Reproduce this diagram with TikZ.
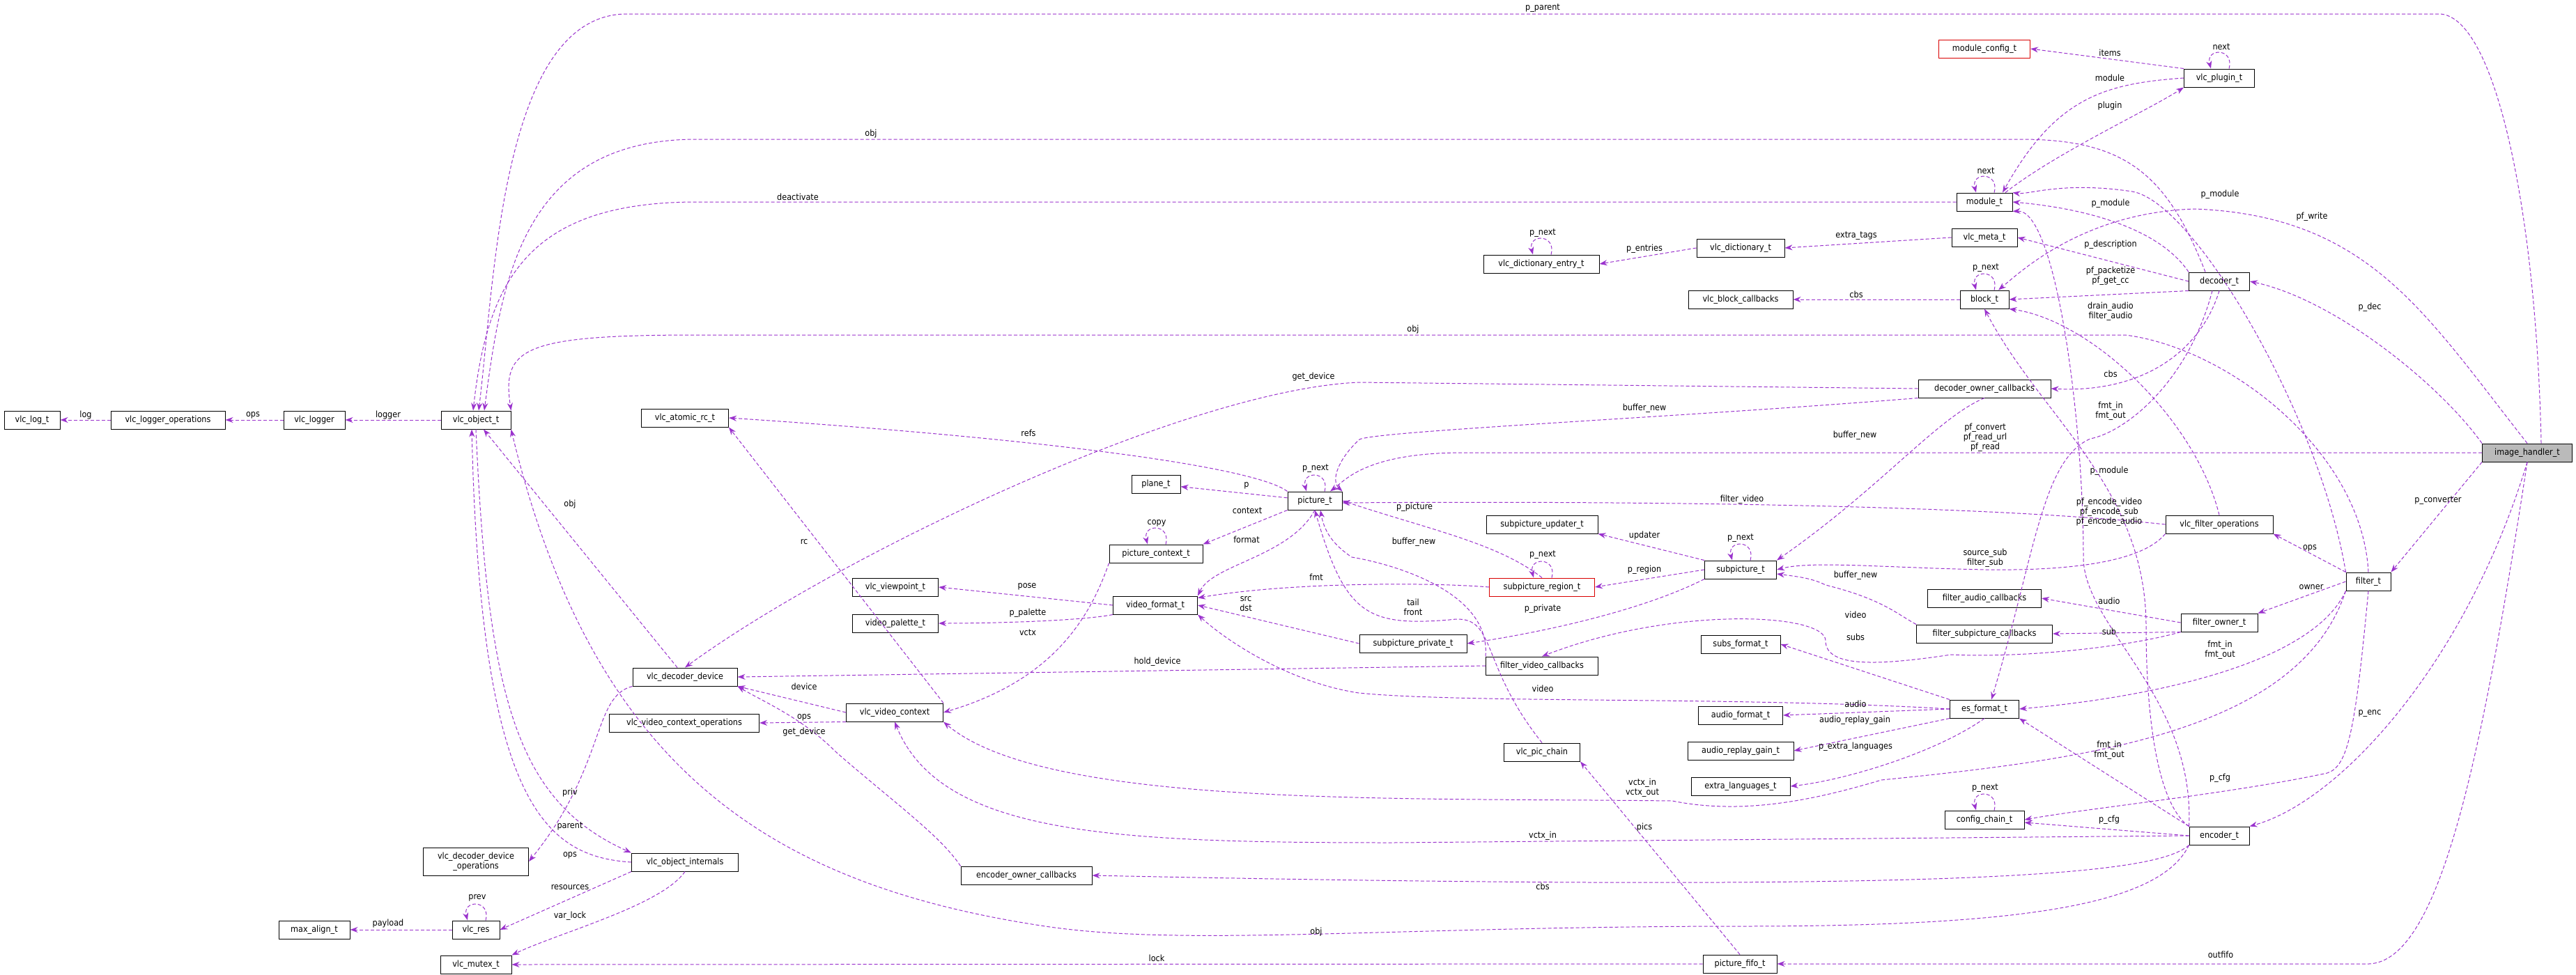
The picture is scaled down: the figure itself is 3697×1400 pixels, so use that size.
\documentclass[tikz,border=0pt]{standalone}
\usepackage{fontspec}
\setmainfont{DejaVu Sans Condensed}
\usetikzlibrary{arrows.meta}
\definecolor{edgec}{HTML}{9A32CD}
\begin{document}
\begin{tikzpicture}[x=1pt,y=-1pt,
  box/.style={draw=black,line width=1pt,fill=white,minimum height=26,inner sep=2pt,font=\fontsize{12.5}{14}\selectfont},
  redbox/.style={box,draw=red!85!black},
  lbl/.style={font=\fontsize{12.5}{14}\selectfont,align=center,inner sep=0pt},
  e/.style={draw=edgec,line width=1pt,dash pattern=on 5pt off 3pt,-{Stealth[length=11pt,width=8pt]}}]
\useasboundingbox[fill=white] (0,0) rectangle (3697,1400);
\newcommand\myloop[1]{\draw[e] ([xshift=14]#1.north) .. controls ([xshift=22,yshift=30]#1.north) and ([xshift=-20,yshift=30]#1.north) .. ([xshift=-12]#1.north);}
% nodes
\node[box,minimum width=80] (log) at (46,603) {vlc\_log\_t};
\node[box,minimum width=164] (lops) at (241,603) {vlc\_logger\_operations};
\node[box,minimum width=88] (logger) at (451,603) {vlc\_logger};
\node[box,minimum width=100] (obj) at (683,603) {vlc\_object\_t};
\node[box,minimum width=125] (arc) at (983,600) {vlc\_atomic\_rc\_t};
\node[box,minimum width=70] (plane) at (1659,695) {plane\_t};
\node[box,minimum width=78] (pic) at (1887,719) {picture\_t};
\node[box,minimum width=134] (pctx) at (1659,795) {picture\_context\_t};
\node[box,minimum width=123] (vp) at (1285,843) {vlc\_viewpoint\_t};
\node[box,minimum width=123] (pal) at (1285,895) {video\_palette\_t};
\node[box,minimum width=121] (vfmt) at (1658,869) {video\_format\_t};
\node[box,minimum width=150] (ddev) at (983,972) {vlc\_decoder\_device};
\node[box,minimum width=215] (vctxops) at (982,1038) {vlc\_video\_context\_operations};
\node[box,minimum width=139] (vctx) at (1284,1023) {vlc\_video\_context};
\node[box,minimum width=151,align=center,minimum height=40] (ddops) at (683,1237) {vlc\_decoder\_device\\\_operations};
\node[box,minimum width=153] (oint) at (983,1238) {vlc\_object\_internals};
\node[box,minimum width=102] (maxa) at (451,1335) {max\_align\_t};
\node[box,minimum width=68] (res) at (683,1335) {vlc\_res};
\node[box,minimum width=102] (mutex) at (683,1385) {vlc\_mutex\_t};
\node[box,minimum width=160] (spuupd) at (2213,753) {subpicture\_updater\_t};
\node[redbox,minimum width=151] (region) at (2213,843) {subpicture\_region\_t};
\node[box,minimum width=103] (spu) at (2498,818) {subpicture\_t};
\node[box,minimum width=154] (spriv) at (2028,924) {subpicture\_private\_t};
\node[box,minimum width=161] (fvcb) at (2213,956) {filter\_video\_callbacks};
\node[box,minimum width=114] (subsf) at (2498,925) {subs\_format\_t};
\node[box,minimum width=121] (audf) at (2498,1027) {audio\_format\_t};
\node[box,minimum width=152] (arg) at (2498,1078) {audio\_replay\_gain\_t};
\node[box,minimum width=142] (xlang) at (2498,1129) {extra\_languages\_t};
\node[box,minimum width=109] (picchain) at (2213,1080) {vlc\_pic\_chain};
\node[box,minimum width=188] (eocb) at (1473,1257) {encoder\_owner\_callbacks};
\node[box,minimum width=106] (fifo) at (2497,1384) {picture\_fifo\_t};
\node[redbox,minimum width=131] (modcfg) at (2848,70) {module\_config\_t};
\node[box,minimum width=101] (plugin) at (3185,112) {vlc\_plugin\_t};
\node[box,minimum width=80] (module) at (2848,290) {module\_t};
\node[box,minimum width=94] (meta) at (2848,341) {vlc\_meta\_t};
\node[box,minimum width=126] (dict) at (2498,356) {vlc\_dictionary\_t};
\node[box,minimum width=166] (dentry) at (2212,379) {vlc\_dictionary\_entry\_t};
\node[box,minimum width=150] (blkcb) at (2498,430) {vlc\_block\_callbacks};
\node[box,minimum width=70] (block) at (2848,430) {block\_t};
\node[box,minimum width=87] (dec) at (3185,404) {decoder\_t};
\node[box,minimum width=190] (docb) at (2848,558) {decoder\_owner\_callbacks};
\node[box,minimum width=129,fill=black!27] (ih) at (3627,650) {image\_handler\_t};
\node[box,minimum width=154] (fops) at (3185,753) {vlc\_filter\_operations};
\node[box,minimum width=64] (filter) at (3399,835) {filter\_t};
\node[box,minimum width=163] (facb) at (2848,859) {filter\_audio\_callbacks};
\node[box,minimum width=195] (fscb) at (2848,910) {filter\_subpicture\_callbacks};
\node[box,minimum width=110] (fowner) at (3185,894) {filter\_owner\_t};
\node[box,minimum width=99] (es) at (2848,1018) {es\_format\_t};
\node[box,minimum width=114] (cfg) at (2848,1177) {config\_chain\_t};
\node[box,minimum width=86] (enc) at (3185,1200) {encoder\_t};
% edges
\draw[e] (lops) -- (log);
\draw[e] (logger) -- (lops);
\draw[e] (obj) -- (logger);
\draw[e] (ddev) -- (obj);
\draw[e] (obj.south) .. controls (700,1000) and (740,1150) .. (oint.north west);
\draw[e] (oint.west) .. controls (780,1230) and (690,1150) .. ([xshift=-6]obj.south);
\draw[e] (ddev.south west) .. controls (850,1000) and (870,1100) .. (ddops.east);
\draw[e] (oint.south west) -- (res.east);
\myloop{res}
\draw[e] (res) -- (maxa);
\draw[e] (oint.south) .. controls (950,1300) and (800,1340) .. (mutex.north east);
\draw[e] (vctx.north east) -- (arc.south east);
\draw[e] (vctx.west) -- (ddev.south east);
\draw[e] (vctx.south west) -- (vctxops.east);
\draw[e] (pic.north west) .. controls (1800,670) and (1500,630) .. (arc.east);
\draw[e] (pic) -- (plane);
\draw[e] (pic.south west) -- (pctx.north east);
\myloop{pctx}
\draw[e] (pctx.south west) .. controls (1560,900) and (1500,980) .. (vctx.east);
\draw[e] (pic.south) .. controls (1850,800) and (1740,810) .. (vfmt.north east);
\myloop{pic}
\draw[e] (vfmt.west) -- (vp.east);
\draw[e] (vfmt.south west) .. controls (1560,890) and (1450,895) .. (pal.east);
\draw[e] (region.west) .. controls (2050,836) and (1850,836) .. ([yshift=-3]vfmt.north east);
\draw[e] (region.north) .. controls (2150,780) and (2050,760) .. (pic.east);
\myloop{region}
\draw[e] (spu.north west) -- (spuupd.south east);
\draw[e] (spu.west) -- (region.east);
\myloop{spu}
\draw[e] (spu.south west) .. controls (2350,880) and (2200,910) .. (spriv.east);
\draw[e] (spriv.west) -- (vfmt.east);
\draw[e] (picchain.north) .. controls (2120,950) and (2150,880) .. (2080,890) .. controls (1960,900) and (1930,880) .. (pic.south);
\draw[e] (fvcb.north west) .. controls (2140,850) and (2000,810) .. (1940,800) .. controls (1910,780) and (1900,760) .. ([xshift=8]pic.south);
\draw[e] (fvcb.west) -- (ddev.east);
\coordinate (gd) at (1950,549);
\draw[e] (docb.west) -- (gd) .. controls (1700,560) and (1200,800) .. (ddev.north);
\draw[e] (docb.south west) .. controls (2400,600) and (1950,620) .. (1950,632) .. controls (1920,660) and (1910,690) .. (pic.north east);
\draw[e] (docb.south) .. controls (2780,600) and (2700,700) .. (spu.north east);
\draw[e] (es.west) .. controls (2500,1000) and (2100,1010) .. (1950,995) .. controls (1850,980) and (1760,920) .. (vfmt.south east);
\draw[e] (es.north west) -- (subsf.east);
\draw[e] (es.west) -- (audf.east);
\draw[e] (es.south west) -- (arg.east);
\draw[e] (es.south) .. controls (2780,1080) and (2650,1120) .. (xlang.east);
\draw[e] (eocb.north west) .. controls (1350,1200) and (1280,1150) .. (1200,1080) .. controls (1150,1030) and (1100,1010) .. (ddev.south east);
\draw[e] (fifo.north) -- (picchain.south east);
\draw[e] (fifo.west) -- (mutex.east);
% image_handler edges
\draw[e] ([xshift=20]ih.north) .. controls (3640,300) and (3580,20) .. (3500,20) -- (900,20) .. controls (720,20) and (710,400) .. ([xshift=4]obj.north);
\draw[e] (ih.west) -- (2100,650) .. controls (1960,650) and (1930,690) .. ([xshift=22]pic.north);
\draw[e] (ih.north) .. controls (3480,450) and (3400,310) .. (3150,300) .. controls (2990,305) and (2900,390) .. ([xshift=20]block.north);
\draw[e] (ih.north west) .. controls (3500,550) and (3350,430) .. (dec.east);
\draw[e] (ih.south west) -- (filter.north east);
\draw[e] (ih.south) .. controls (3540,950) and (3360,1150) .. (enc.north east);
\draw[e] (ih.south) .. controls (3560,1100) and (3500,1380) .. (3400,1384) -- (fifo.east);
% module & plugin
\draw[e] (module.west) -- (1000,290) .. controls (760,290) and (700,400) .. ([xshift=-4]obj.north);
\myloop{module}
\draw[e] ([xshift=30]module.north) .. controls (2950,220) and (3080,160) .. (plugin.south west);
\draw[e] (plugin.west) .. controls (3020,120) and (2950,140) .. ([xshift=26]module.north);
\draw[e] (plugin.north west) -- (modcfg.east);
\myloop{plugin}
\draw[e] (filter.north west) .. controls (3330,600) and (3150,290) .. (3060,275) .. controls (2960,260) and (2910,280) .. (module.north east);
\draw[e] (dec.north west) .. controls (3100,330) and (3000,300) .. (module.east);
\draw[e] (enc.north west) .. controls (3150,1000) and (2990,900) .. (2990,800) .. controls (2990,600) and (2950,300) .. (module.south east);
% decoder
\draw[e] ([xshift=-20]dec.north) .. controls (3110,250) and (3050,200) .. (2900,200) -- (1000,200) .. controls (750,200) and (720,400) .. ([xshift=12]obj.north);
\draw[e] (dec.west) -- (meta.east);
\draw[e] (dec.south west) -- (block.east);
\draw[e] (dec.south) .. controls (3160,500) and (3080,565) .. (docb.east);
\draw[e] ([xshift=-10]dec.south) .. controls (3140,550) and (3050,620) .. (3000,630) .. controls (2930,660) and (2920,800) .. ([xshift=10]es.north);
\draw[e] (meta.west) -- (dict.east);
\draw[e] (dict.west) -- (dentry.east);
\myloop{dentry}
\draw[e] (block.west) -- (blkcb.east);
\myloop{block}
% filter operations
\draw[e] (fops.north) .. controls (3150,600) and (3000,460) .. (block.south east);
\draw[e] (fops.west) .. controls (2800,720) and (2200,720) .. ([yshift=-3]pic.east);
\draw[e] (fops.south west) .. controls (3080,800) and (3000,820) .. (2850,818) .. controls (2700,815) and (2600,805) .. (spu.east);
\draw[e] (enc.north west) .. controls (3090,1150) and (3080,1000) .. (3080,900) .. controls (3080,700) and (2930,600) .. (block.south);
% filter
\draw[e] (filter.north west) -- (fops.south east);
\draw[e] (filter.west) -- (fowner.north east);
\draw[e] (filter.south west) .. controls (3320,950) and (3100,1000) .. (es.east);
\draw[e] (filter.south west) .. controls (3300,1050) and (3000,1090) .. (2700,1120) .. controls (2600,1150) and (2500,1170) .. (2400,1150) .. controls (2000,1145) and (1500,1160) .. (vctx.south east);
\draw[e] (filter.south) .. controls (3380,1050) and (3370,1100) .. (3340,1110) .. controls (3200,1140) and (3000,1160) .. (cfg.east);
\draw[e] (filter.north) .. controls (3390,650) and (3200,500) .. (3050,481) -- (1000,481) .. controls (750,481) and (720,500) .. (obj.north east);
\draw[e] (fowner.west) -- (facb.east);
\draw[e] (fowner.south west) -- (fscb.east);
\draw[e] (fowner.south west) .. controls (3050,930) and (2900,945) .. (2800,940) .. controls (2700,955) and (2620,960) .. (2620,920) .. controls (2620,880) and (2400,870) .. (fvcb.north);
\draw[e] (fscb.north west) .. controls (2720,880) and (2700,860) .. (2620,840) .. controls (2600,830) and (2580,828) .. ([yshift=-6]spu.east);
% encoder
\draw[e] (enc.north west) -- (es.south east);
\draw[e] (enc.west) -- ([yshift=-4]cfg.east);
\myloop{cfg}
\draw[e] (enc.west) -- (2000,1210) .. controls (1600,1210) and (1350,1200) .. (vctx.south);
\draw[e] (enc.south west) .. controls (3100,1250) and (2900,1285) .. (eocb.east);
\draw[e] (enc.south west) .. controls (3100,1300) and (2900,1330) .. (2500,1330) .. controls (2000,1330) and (1700,1360) .. (1500,1330) .. controls (1100,1270) and (850,1100) .. (obj.south east);
% labels
\node[lbl] at (123,596) {log};
\node[lbl] at (363,596) {ops};
\node[lbl] at (557,596) {logger};
\node[lbl] at (818,724) {obj};
\node[lbl] at (1154,778) {rc};
\node[lbl] at (1154,986) {device};
\node[lbl] at (1154,1030) {ops};
\node[lbl] at (1154,1051) {get\_device};
\node[lbl] at (818,1138) {priv};
\node[lbl] at (818,1186) {parent};
\node[lbl] at (818,1228) {ops};
\node[lbl] at (818,1274) {resources};
\node[lbl] at (685,1289) {prev};
\node[lbl] at (557,1326) {payload};
\node[lbl] at (818,1315) {var\_lock};
\node[lbl] at (1476,622) {refs};
\node[lbl] at (2360,586) {buffer\_new};
\node[lbl] at (1888,673) {p\_next};
\node[lbl] at (1789,697) {p};
\node[lbl] at (1790,733) {context};
\node[lbl] at (1660,751) {copy};
\node[lbl] at (1789,775) {format};
\node[lbl] at (2500,717) {filter\_video};
\node[lbl] at (2030,728) {p\_picture};
\node[lbl] at (2029,778) {buffer\_new};
\node[lbl] at (2360,769) {updater};
\node[lbl] at (2498,773) {p\_next};
\node[lbl] at (2214,797) {p\_next};
\node[lbl] at (2360,818) {p\_region};
\node[lbl] at (1889,829) {fmt};
\node[lbl] at (1474,842) {pose};
\node[lbl] at (1788,867) {src\\dst};
\node[lbl] at (2028,872) {tail\\front};
\node[lbl] at (2214,874) {p\_private};
\node[lbl] at (1475,880) {p\_palette};
\node[lbl] at (1475,908) {vctx};
\node[lbl] at (1661,950) {hold\_device};
\node[lbl] at (2214,989) {video};
\node[lbl] at (2357,1131) {vctx\_in\\vctx\_out};
\node[lbl] at (2360,1188) {pics};
\node[lbl] at (2214,1200) {vctx\_in};
\node[lbl] at (2214,1273) {cbs};
\node[lbl] at (1889,1338) {obj};
\node[lbl] at (1660,1376) {lock};
\node[lbl] at (2214,12) {p\_parent};
\node[lbl] at (3028,76) {items};
\node[lbl] at (3188,67) {next};
\node[lbl] at (3028,112) {module};
\node[lbl] at (3028,152) {plugin};
\node[lbl] at (1250,192) {obj};
\node[lbl] at (1145,283) {deactivate};
\node[lbl] at (2850,245) {next};
\node[lbl] at (3186,279) {p\_module};
\node[lbl] at (3029,292) {p\_module};
\node[lbl] at (3318,311) {pf\_write};
\node[lbl] at (2214,335) {p\_next};
\node[lbl] at (2664,339) {extra\_tags};
\node[lbl] at (2360,357) {p\_entries};
\node[lbl] at (3029,351) {p\_description};
\node[lbl] at (2850,385) {p\_next};
\node[lbl] at (3029,396) {pf\_packetize\\pf\_get\_cc};
\node[lbl] at (2664,423) {cbs};
\node[lbl] at (3029,447) {drain\_audio\\filter\_audio};
\node[lbl] at (3401,441) {p\_dec};
\node[lbl] at (2028,473) {obj};
\node[lbl] at (1885,541) {get\_device};
\node[lbl] at (3029,537) {cbs};
\node[lbl] at (2662,625) {buffer\_new};
\node[lbl] at (3029,590) {fmt\_in\\fmt\_out};
\node[lbl] at (2849,628) {pf\_convert\\pf\_read\_url\\pf\_read};
\node[lbl] at (3027,676) {p\_module};
\node[lbl] at (3499,719) {p\_converter};
\node[lbl] at (3027,735) {pf\_encode\_video\\pf\_encode\_sub\\pf\_encode\_audio};
\node[lbl] at (2849,801) {source\_sub\\filter\_sub};
\node[lbl] at (2663,826) {buffer\_new};
\node[lbl] at (3315,787) {ops};
\node[lbl] at (3317,843) {owner};
\node[lbl] at (3027,863) {audio};
\node[lbl] at (3027,907) {sub};
\node[lbl] at (2663,883) {video};
\node[lbl] at (2663,915) {subs};
\node[lbl] at (3186,933) {fmt\_in\\fmt\_out};
\node[lbl] at (2663,1011) {audio};
\node[lbl] at (2662,1034) {audio\_replay\_gain};
\node[lbl] at (2663,1072) {p\_extra\_languages};
\node[lbl] at (3401,1024) {p\_enc};
\node[lbl] at (3027,1077) {fmt\_in\\fmt\_out};
\node[lbl] at (3186,1117) {p\_cfg};
\node[lbl] at (2849,1132) {p\_next};
\node[lbl] at (3027,1177) {p\_cfg};
\node[lbl] at (3187,1371) {outfifo};
\end{tikzpicture}
\end{document}
